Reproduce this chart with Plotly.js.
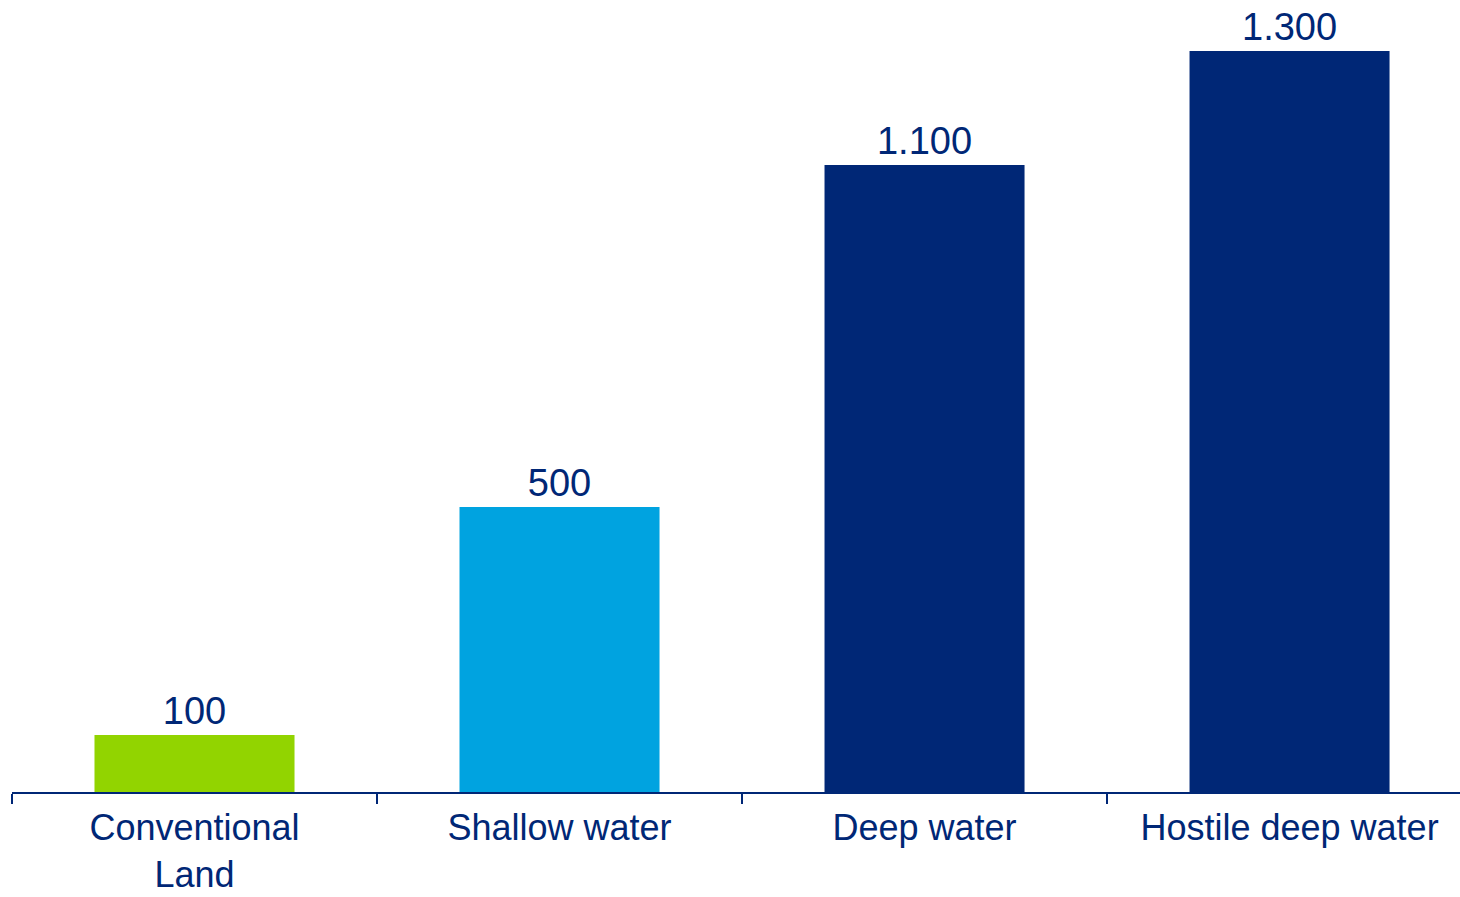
<!DOCTYPE html>
<html>
<head>
<meta charset="utf-8">
<script src="https://cdn.plot.ly/plotly-3.0.1.min.js"></script>
<style>html,body{margin:0;padding:0;background:#fff;}#chart{width:1460px;height:897px;}</style>
</head>
<body>
<div id="chart"></div>
<script>
const categories = ["Conventional<br>Land", "Shallow water", "Deep water", "Hostile deep water"];
const values = [100, 500, 1100, 1300];
const barColors = ["#92D400", "#00A3E0", "#002776", "#002776"];

const navy = "#002776";
const trace = {
  type: "bar",
  x: categories,
  y: values,
  marker: {color: barColors, line: {width: 0}},
  texttemplate: "%{y:,.0f}",
  textposition: "outside",
  cliponaxis: false,
  textfont: {family: "Liberation Sans, Arial, sans-serif", size: 38, color: navy},
  hoverinfo: "skip"
};

const layout = {
  width: 1460, height: 897,
  margin: {l: 12, r: 0, t: 0, b: 105},
  paper_bgcolor: "#fff", plot_bgcolor: "#fff",
  separators: ",.",
  bargap: 0.452,
  showlegend: false,
  font: {family: "Liberation Sans, Arial, sans-serif", color: navy},
  xaxis: {
    type: "category",
    showline: true, linecolor: navy, linewidth: 2,
    ticks: "outside", tickson: "boundaries", ticklen: 10, tickwidth: 2, tickcolor: navy,
    showgrid: false,
    ticklabelstandoff: 3,
    tickfont: {family: "Liberation Sans, Arial, sans-serif", size: 36, color: navy},
    range: [-0.5, 3.467]
  },
  yaxis: {
    range: [0, 1389.5],
    visible: false, showgrid: false, zeroline: false
  }
};

Plotly.newPlot("chart", [trace], layout, {displayModeBar: false, staticPlot: true});
</script>
</body>
</html>
